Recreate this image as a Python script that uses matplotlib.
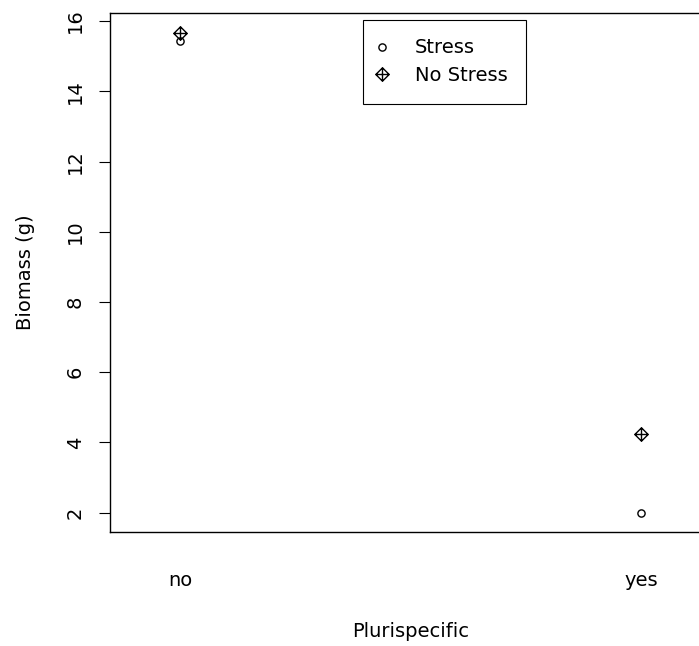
import matplotlib
matplotlib.use("Agg")
import matplotlib.pyplot as plt
from matplotlib.path import Path

categories = ["no", "yes"]
stress = [15.42, 2.0]
no_stress = [15.67, 4.23]
y_ticks = [2, 4, 6, 8, 10, 12, 14, 16]

plt.rcParams["font.family"] = ["DejaVu Sans"]
FS = 14

# diamond with a cross inside (R's pch = 9)
diamond_plus = Path(
    [(0, 1), (1, 0), (0, -1), (-1, 0), (0, 1),
     (0, 1), (0, -1), (-1, 0), (1, 0)],
    [Path.MOVETO, Path.LINETO, Path.LINETO, Path.LINETO, Path.CLOSEPOLY,
     Path.MOVETO, Path.LINETO, Path.MOVETO, Path.LINETO],
)

fig = plt.figure(figsize=(6.99, 6.46), dpi=100)
ax = fig.add_axes([110 / 699, (646 - 532) / 646, 601 / 699, 519 / 646])

x = [1, 2]
h1, = ax.plot(x, stress, linestyle="none", marker="o", markersize=5.2,
              markerfacecolor="none", markeredgecolor="black",
              markeredgewidth=1.0, label="Stress")
h2, = ax.plot(x, no_stress, linestyle="none", marker=diamond_plus,
              markersize=9.6, markerfacecolor="none",
              markeredgecolor="black", markeredgewidth=1.0,
              label="No Stress")

ax.set_xlim(0.848, 2.152)
ax.set_ylim(1.45, 16.23)

ax.set_xticks(x)
ax.set_xticklabels(categories, fontsize=FS)
ax.tick_params(axis="x", length=0, pad=28)
ax.set_yticks(y_ticks)
ax.set_yticklabels([str(v) for v in y_ticks], fontsize=FS,
                   rotation=90, va="center")
ax.tick_params(axis="y", length=8, width=0.8, pad=10)

for s in ax.spines.values():
    s.set_linewidth(1.0)
    s.set_color("black")
ax.spines["right"].set_visible(False)

ax.set_xlabel("Plurispecific", fontsize=FS, labelpad=23)
ax.set_ylabel("Biomass (g)", fontsize=FS, labelpad=22)

leg = ax.legend(handles=[h1, h2], loc="upper left",
                bbox_to_anchor=(363 / 699, 1 - 20 / 646),
                bbox_transform=fig.transFigure,
                fontsize=FS, frameon=True, fancybox=False,
                edgecolor="black", framealpha=1, borderpad=0.95,
                handlelength=0.1, handletextpad=1.6, labelspacing=0.45,
                borderaxespad=0)
leg.get_frame().set_linewidth(0.8)

fig.savefig("out.png", dpi=100)
